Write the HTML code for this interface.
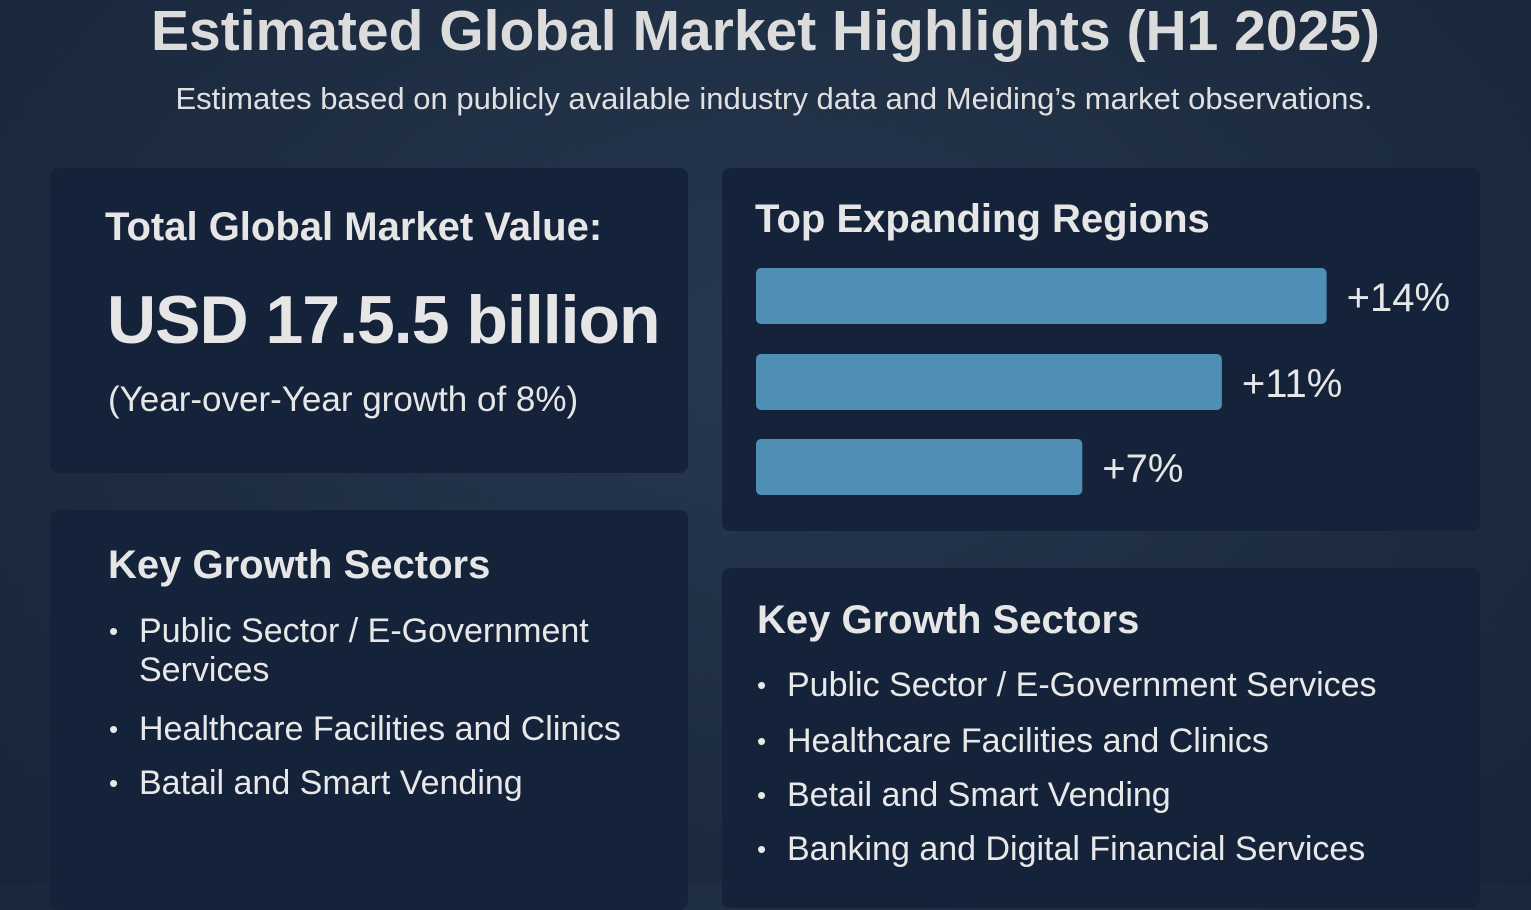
<!DOCTYPE html>
<html><head><meta charset="utf-8"><style>
html,body{margin:0;padding:0}
body{width:1531px;height:883px;overflow:hidden;background:radial-gradient(ellipse at 50% 40%,#263850 0%,#1d2c40 60%,#17253a 100%);font-family:"Liberation Sans",sans-serif;color:#e6e6e6;position:relative}
.t{position:absolute;white-space:nowrap}
.card{position:absolute;background:#15233a;border-radius:8px}
ul{margin:0;padding:0;list-style:none}
li{position:absolute;white-space:nowrap;font-size:34px;color:#e8e8e8}
li:before{content:"•";position:absolute;left:-30px;font-size:26px;top:4px}
</style></head><body>
<div class="t" style="left:0;width:1531px;text-align:center;top:-2px;font-size:57px;font-weight:bold;color:#dcdcdc">Estimated Global Market Highlights (H1 2025)</div>
<div class="t" style="left:0;width:1548px;text-align:center;top:81px;font-size:31px;color:#e0e0e0">Estimates based on publicly available industry data and Meiding’s market observations.</div>

<div class="card" style="left:50px;top:168px;width:638px;height:305px"></div>
<div class="t" style="left:105px;top:205px;font-size:40px;font-weight:bold">Total Global Market Value:</div>
<div class="t" style="left:107px;top:281px;font-size:68px;font-weight:bold;letter-spacing:-1px">USD 17.5.5 billion</div>
<div class="t" style="left:108px;top:380px;font-size:35px">(Year-over-Year growth of 8%)</div>

<div class="card" style="left:722px;top:168px;width:758px;height:363px"></div>
<div class="t" style="left:755px;top:197px;font-size:40px;font-weight:bold">Top Expanding Regions</div>
<svg id="chart" style="position:absolute;left:0;top:0" width="1531" height="883"></svg>

<div class="card" style="left:50px;top:510px;width:638px;height:400px"></div>
<div class="t" style="left:108px;top:543px;font-size:40px;font-weight:bold">Key Growth Sectors</div>
<ul>
<li style="left:139px;top:612px">Public Sector / E-Government<br>Services</li>
<li style="left:139px;top:710px">Healthcare Facilities and Clinics</li>
<li style="left:139px;top:764px">Batail and Smart Vending</li>
</ul>

<div class="card" style="left:722px;top:568px;width:758px;height:340px"></div>
<div class="t" style="left:757px;top:598px;font-size:40px;font-weight:bold">Key Growth Sectors</div>
<ul>
<li style="left:787px;top:666px">Public Sector / E-Government Services</li>
<li style="left:787px;top:722px">Healthcare Facilities and Clinics</li>
<li style="left:787px;top:776px">Betail and Smart Vending</li>
<li style="left:787px;top:830px">Banking and Digital Financial Services</li>
</ul>

<script>
const regions = ["Region A","Region B","Region C"];
const growth = [14, 11, 7];
const growthLabels = ["+14%","+11%","+7%"];
const svg=document.getElementById('chart');
const NS="http://www.w3.org/2000/svg";
function xw(v){return 82+34.9*v;}
function yb(i){return [268,354,439][i];}
growth.forEach((v,i)=>{
  const r=document.createElementNS(NS,'rect');
  
  
  r.setAttribute('x',756);r.setAttribute('y',yb(i));
  r.setAttribute('width',xw(v));r.setAttribute('height',56);
  r.setAttribute('rx',5);r.setAttribute('fill','#4f8fb5');
  svg.appendChild(r);
  const t=document.createElementNS(NS,'text');
  
  
  t.setAttribute('x',756+xw(v)+20);t.setAttribute('y',yb(i)+43);
  t.setAttribute('fill','#e6e6e6');t.setAttribute('font-size','40');
  t.setAttribute('font-family','Liberation Sans, sans-serif');
  t.textContent=growthLabels[i];
  svg.appendChild(t);
});
</script>
</body></html>
